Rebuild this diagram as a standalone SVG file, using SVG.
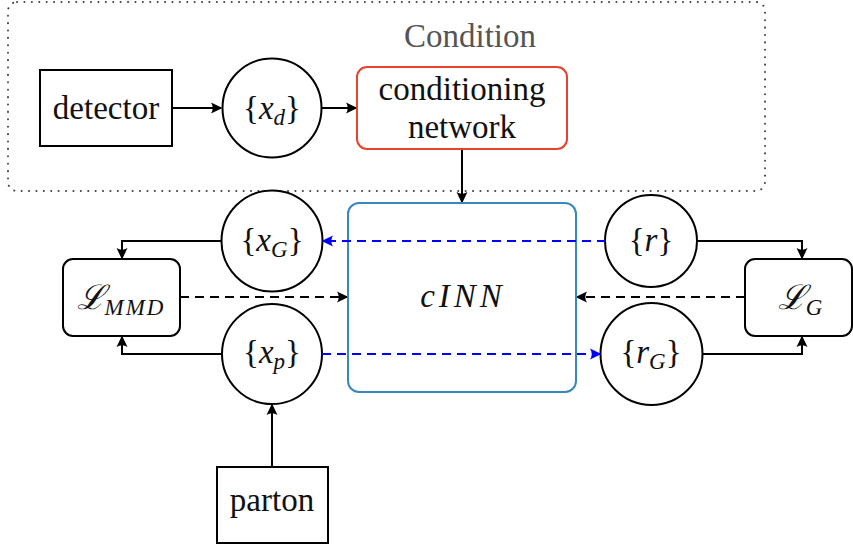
<svg xmlns="http://www.w3.org/2000/svg" width="853" height="544" viewBox="0 0 853 544">
  <defs>
    <marker id="arrK" viewBox="-13 -7 15 14" markerWidth="15" markerHeight="14" refX="0" refY="0" orient="auto" markerUnits="userSpaceOnUse">
      <path d="M1.5,0 L-10,-5.5 Q-6.5,0 -10,5.5 Z" fill="#000"/>
    </marker>
    <marker id="arrB" viewBox="-13 -7 15 14" markerWidth="15" markerHeight="14" refX="0" refY="0" orient="auto" markerUnits="userSpaceOnUse">
      <path d="M1.5,0 L-10,-5.5 Q-6.5,0 -10,5.5 Z" fill="#0000ff"/>
    </marker>
  </defs>
  <style>
    .box { fill: #fff; stroke: #000; stroke-width: 2; }
    .circ { fill: #fff; stroke: #000; stroke-width: 2; }
    .it { font-style: italic; }
    .sub { font-size: 23px; font-style: italic; }
    .scr { font-family: 'DejaVu Serif', serif; font-style: italic; font-size: 34px; }
    .wire { fill: none; stroke: #000; stroke-width: 2; marker-end: url(#arrK); }
    .dash { fill: none; stroke: #000; stroke-width: 2; stroke-dasharray: 9 6; marker-end: url(#arrK); }
    .bdash { fill: none; stroke: #0000ff; stroke-width: 2; stroke-dasharray: 9 6; marker-end: url(#arrB); }
  </style>

  <!-- condition frame -->
  <g id="condition">
    <rect x="8" y="2" width="757" height="189" rx="9" fill="none" stroke="#444" stroke-width="2" stroke-dasharray="0.1 7.3" stroke-linecap="round"/>
  </g>

  <!-- connectors -->
  <g id="connectors">
    <path class="wire" d="M172,108 H221"/>
    <path class="wire" d="M322,108 H356"/>
    <path class="wire" d="M462,149 V202"/>
    <path class="wire" d="M222,241 H122 V258"/>
    <path class="wire" d="M222,354 H122 V337"/>
    <path class="wire" d="M697,241 H802 V258"/>
    <path class="wire" d="M703,354 H802 V337"/>
    <path class="wire" d="M272,467 V405"/>
    <path class="dash" d="M180,297 H347"/>
    <path class="dash" d="M745,297 H577"/>
  </g>

  <g font-family="Liberation Serif, DejaVu Serif, serif" font-size="33" fill="#111" text-anchor="middle">
    <text x="470" y="47" fill="#555">Condition</text>

    <g id="detector">
      <rect class="box" x="40" y="70" width="132" height="76"/>
      <text x="106" y="119">detector</text>
    </g>

    <g id="xd">
      <circle class="circ" cx="272" cy="108" r="49.5"/>
      <text x="272" y="119">{<tspan class="it">x</tspan><tspan class="sub" dy="6">d</tspan><tspan dy="-6">}</tspan></text>
    </g>

    <g id="conditioning">
      <rect x="357" y="67" width="210" height="82" rx="10" fill="#fff" stroke="#e8432a" stroke-width="2"/>
      <text x="462" y="100">conditioning</text>
      <text x="462" y="138">network</text>
    </g>

    <g id="cinn">
      <rect x="348" y="203" width="228" height="189" rx="11" fill="#fff" stroke="#3a87c0" stroke-width="2"/>
      <text class="it" x="463" y="307" letter-spacing="4">cINN</text>
    </g>

    <g id="xG">
      <circle class="circ" cx="272" cy="241" r="50.5"/>
      <text x="272" y="251">{<tspan class="it">x</tspan><tspan class="sub" dy="6">G</tspan><tspan dy="-6">}</tspan></text>
    </g>

    <g id="xp">
      <circle class="circ" cx="272" cy="354" r="50"/>
      <text x="272" y="363">{<tspan class="it">x</tspan><tspan class="sub" dy="6">p</tspan><tspan dy="-6">}</tspan></text>
    </g>

    <g id="r">
      <circle class="circ" cx="651" cy="241" r="46"/>
      <text x="651" y="251">{<tspan class="it">r</tspan>}</text>
    </g>

    <g id="rG">
      <circle class="circ" cx="651.5" cy="354" r="51"/>
      <text x="651" y="363">{<tspan class="it">r</tspan><tspan class="sub" dy="6">G</tspan><tspan dy="-6">}</tspan></text>
    </g>

    <g id="lmmd">
      <rect class="box" x="63" y="259" width="117" height="77" rx="10"/>
      <text x="121" y="309"><tspan class="scr">ℒ</tspan><tspan class="sub" dy="6" letter-spacing="2">MMD</tspan></text>
    </g>

    <g id="lG">
      <rect class="box" x="745" y="259" width="107" height="77" rx="10"/>
      <text x="800" y="309"><tspan class="scr">ℒ</tspan><tspan class="sub" dy="6">G</tspan></text>
    </g>

    <g id="parton">
      <rect class="box" x="217" y="467" width="111" height="76"/>
      <text x="272" y="511">parton</text>
    </g>
  </g>

  <!-- blue dashed flows drawn over cINN -->
  <g id="flows">
    <path class="bdash" d="M606,241 H323"/>
    <path class="bdash" d="M322,354 H600"/>
  </g>
</svg>
